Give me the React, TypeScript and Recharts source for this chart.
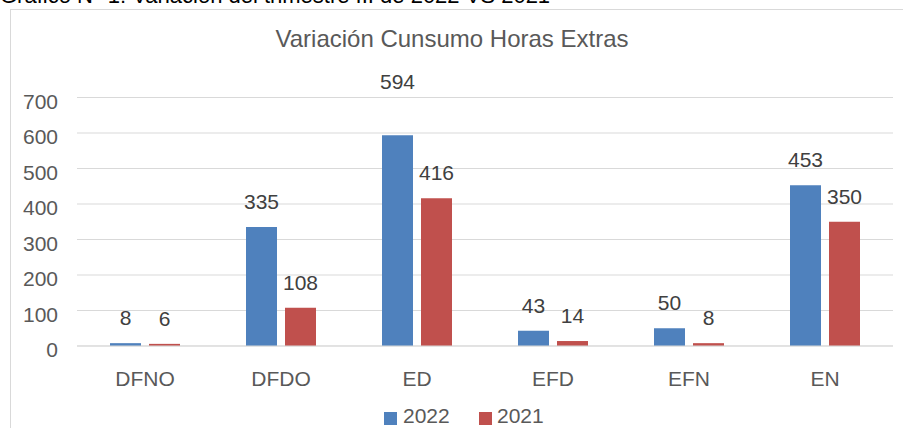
import React from 'react';
import { BarChart, Bar, XAxis, YAxis, CartesianGrid, LabelList } from 'recharts';

const categories = ['DFNO', 'DFDO', 'ED', 'EFD', 'EFN', 'EN'];
const values2022 = [8, 335, 594, 43, 50, 453];
const values2021 = [6, 108, 416, 14, 8, 350];
const yTicks = [0, 100, 200, 300, 400, 500, 600, 700];
const seriesNames = ['2022', '2021'];
const heading = 'Gráfico N° 1: Variación del trimestre III de 2022 VS 2021';
const chartTitle = 'Variación Cunsumo Horas Extras';

const data = categories.map((c, i) => ({ name: c, y2022: values2022[i], y2021: values2021[i] }));

const BLUE = '#4f81bd';
const RED = '#c0504d';
const FONT = 'Arial, "Liberation Sans", sans-serif';

// label of the 2022 ED bar was moved up by hand in the original chart
const makeLabel = (liftIndex: number, lift: number) => (props: any) => {
  const { x, y, width, value, index } = props;
  const extra = index === liftIndex ? lift : 0;
  return (
    <text x={x + width / 2} y={y - 18 - extra} textAnchor="middle" fontSize={21} fill="#404040" fontFamily={FONT}>
      {value}
    </text>
  );
};

export default function App() {
  return (
    <div style={{ position: 'fixed', left: 0, top: 0, width: 903, height: 428, overflow: 'hidden', background: '#fff', fontFamily: FONT }}>
      <div style={{ position: 'absolute', left: 0, top: -15, fontSize: 22, lineHeight: '22px', color: '#000', whiteSpace: 'nowrap' }}>{heading}</div>
      <div style={{ position: 'absolute', left: 10, top: 9, width: 910, height: 440, border: '1px solid #d9d9d9', boxSizing: 'border-box' }} />
      <div style={{ position: 'absolute', left: 0, top: 0 }}>
        <BarChart width={903} height={428} data={data} margin={{ top: 97.5, right: 10, left: 0, bottom: 52 }} barSize={31} barGap={8}>
          <text x={452} y={47} textAnchor="middle" fontSize={24} fill="#595959" fontFamily={FONT}>{chartTitle}</text>
          <CartesianGrid vertical={false} stroke="#d9d9d9" />
          <XAxis dataKey="name" height={30} tickLine={false} tickSize={0} tickMargin={25} axisLine={{ stroke: '#d9d9d9' }} tick={{ fontSize: 21, fill: '#595959', fontFamily: FONT }} />
          <YAxis width={77} domain={[0, 700]} ticks={yTicks} axisLine={false} tickLine={false} tickSize={0} tickMargin={19} tick={{ fontSize: 21, fill: '#595959', fontFamily: FONT, dy: 4 }} />
          <Bar dataKey="y2022" name={seriesNames[0]} fill={BLUE} isAnimationActive={false}>
            <LabelList dataKey="y2022" content={makeLabel(2, 28)} />
          </Bar>
          <Bar dataKey="y2021" name={seriesNames[1]} fill={RED} isAnimationActive={false}>
            <LabelList dataKey="y2021" content={makeLabel(-1, 0)} />
          </Bar>
        </BarChart>
      </div>
      <span style={{ position: 'absolute', left: 384, top: 411.5, width: 13, height: 13, background: BLUE }} />
      <span style={{ position: 'absolute', left: 403, top: 405, fontSize: 21, lineHeight: '21px', color: '#595959' }}>{seriesNames[0]}</span>
      <span style={{ position: 'absolute', left: 479, top: 411.5, width: 13, height: 13, background: RED }} />
      <span style={{ position: 'absolute', left: 497, top: 405, fontSize: 21, lineHeight: '21px', color: '#595959' }}>{seriesNames[1]}</span>
    </div>
  );
}
